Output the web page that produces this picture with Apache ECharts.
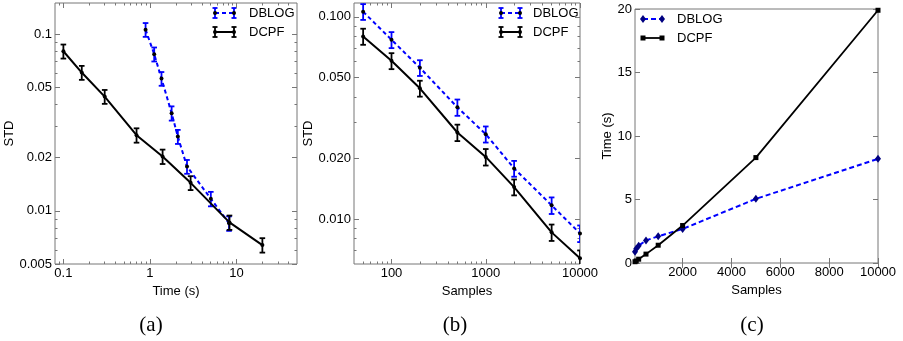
<!DOCTYPE html>
<html><head><meta charset="utf-8">
<script src="https://cdn.jsdelivr.net/npm/echarts@6/dist/echarts.min.js"></script>
<style>html,body{margin:0;padding:0;background:#fff}#c{width:903px;height:341px}</style>
</head><body><div id="c"></div>
<script>
// ---------------- data ----------------
const samples   = [50, 100, 200, 500, 1000, 2000, 5000, 10000];
const dblogStd  = [0.106, 0.077, 0.056, 0.0357, 0.0263, 0.0178, 0.0117, 0.0085];
const dblogErr  = [0.0095, 0.007, 0.005, 0.0033, 0.0024, 0.0016, 0.0011, 0.0008];
const dcpfStd   = [0.080, 0.0606, 0.0443, 0.0268, 0.0203, 0.0144, 0.0086, 0.0064];
const dcpfErr   = [0.0073, 0.0055, 0.004, 0.0025, 0.0019, 0.0013, 0.0008, 0.0006];
const dblogTime = [0.89, 1.12, 1.36, 1.78, 2.1, 2.68, 5.05, 8.2];
const dcpfTime  = [0.1, 0.163, 0.3, 0.70, 1.40, 2.95, 8.3, 19.9];

const aXTicks = [0.1, 1, 10];
const aXLabels = ['0.1', '1', '10'];
const aYTicks = [0.005, 0.01, 0.02, 0.05, 0.1];
const aYLabels = ['0.005', '0.01', '0.02', '0.05', '0.1'];
const bXTicks = [100, 1000, 10000];
const bXLabels = ['100', '1000', '10000'];
const bYTicks = [0.01, 0.02, 0.05, 0.1];
const bYLabels = ['0.010', '0.020', '0.050', '0.100'];
const cXTicks = [2000, 4000, 6000, 8000, 10000];
const cXLabels = ['2000', '4000', '6000', '8000', '10000'];
const cYTicks = [0, 5, 10, 15, 20];
const cYLabels = ['0', '5', '10', '15', '20'];
const seriesNames = ['DBLOG', 'DCPF'];
const captions = ['(a)', '(b)', '(c)'];

// ---------------- helpers ----------------
const FONT = 'Liberation Sans';
const FRAME = '#777';
const BLUE = '#0000ff';

function labelFor(ticks, labels) {
  return function (v) {
    let best = 0, bd = Infinity;
    ticks.forEach((t, i) => { const d = Math.abs(Math.log(Math.abs(t) + 1e-12) - Math.log(Math.abs(v) + 1e-12)); if (d < bd) { bd = d; best = i; } });
    return labels[best];
  };
}
function labelForLin(ticks, labels) {
  return function (v) {
    let best = 0, bd = Infinity;
    ticks.forEach((t, i) => { const d = Math.abs(t - v); if (d < bd) { bd = d; best = i; } });
    return labels[best];
  };
}
function logMinors(min, max, majors) {
  const out = [];
  for (let e = -4; e <= 5; e++) for (let m = 1; m < 10; m++) {
    const v = +(m * Math.pow(10, e)).toPrecision(6);
    if (v > min * 1.0001 && v < max * 0.9999 && !majors.some(t => Math.abs(t - v) / v < 1e-6)) out.push(v);
  }
  return out;
}

const xAxes = [], yAxes = [];
function addAxes(list, dir, grid, type, min, max, majors, fmt, name, nameGap, minors, labelMargin) {
  const pos = dir === 'x' ? ['bottom', 'top'] : ['left', 'right'];
  const base = { type: type, gridIndex: grid, min: min, max: max, splitLine: { show: false }, axisLine: { show: false } };
  if (type === 'log') base.logBase = 10;
  const mainIdx = list.length;
  list.push(Object.assign({}, base, {
    position: pos[0],
    name: name, nameLocation: 'middle', nameGap: nameGap,
    nameTextStyle: { fontFamily: FONT, fontSize: 13, color: '#000' },
    axisTick: { show: true, inside: true, length: 5, customValues: majors, lineStyle: { color: FRAME, width: 1 } },
    axisLabel: { show: true, customValues: majors, formatter: fmt, margin: labelMargin, fontFamily: FONT, fontSize: 13, color: '#000' }
  }));
  list.push(Object.assign({}, base, {
    position: pos[1],
    axisTick: { show: true, inside: true, length: 5, customValues: majors, lineStyle: { color: FRAME, width: 1 } },
    axisLabel: { show: false }
  }));
  if (minors && minors.length) {
    [0, 1].forEach(k => list.push(Object.assign({}, base, {
      position: pos[k],
      axisTick: { show: true, inside: true, length: 2.5, customValues: minors, lineStyle: { color: FRAME, width: 1 } },
      axisLabel: { show: false }
    })));
  }
  return mainIdx;
}

// grids
const grids = [
  { left: 55, right: 606, top: 3, bottom: 77 },
  { left: 354, right: 323, top: 3, bottom: 77 },
  { left: 635, right: 25, top: 9, bottom: 78 }
].map(g => Object.assign(g, { show: true, borderColor: FRAME, borderWidth: 1, backgroundColor: 'transparent', containLabel: false }));

// panel a
const aXmin = 0.08, aXmax = 50, aYmin = 0.005, aYmax = 0.15;
const ax = addAxes(xAxes, 'x', 0, 'log', aXmin, aXmax, aXTicks, labelFor(aXTicks, aXLabels), 'Time (s)', 15, logMinors(aXmin, aXmax, aXTicks), 3);
const ay = addAxes(yAxes, 'y', 0, 'log', aYmin, aYmax, aYTicks, labelFor(aYTicks, aYLabels), 'STD', 35, logMinors(aYmin, aYmax, aYTicks), 3);
// panel b
const bXmin = 40, bXmax = 10000, bYmin = 0.006, bYmax = 0.117;
const bx = addAxes(xAxes, 'x', 1, 'log', bXmin, bXmax, bXTicks, labelFor(bXTicks, bXLabels), 'Samples', 15, logMinors(bXmin, bXmax, bXTicks), 3);
const by = addAxes(yAxes, 'y', 1, 'log', bYmin, bYmax, bYTicks, labelFor(bYTicks, bYLabels), 'STD', 35, logMinors(bYmin, bYmax, bYTicks), 3);
// panel c
const cx = addAxes(xAxes, 'x', 2, 'value', 50, 10000, cXTicks, labelForLin(cXTicks, cXLabels), 'Samples', 16, null, 3);
const cy = addAxes(yAxes, 'y', 2, 'value', 0, 20, cYTicks, labelForLin(cYTicks, cYLabels), 'Time (s)', 12, null, 3);

function errRender(color) {
  return function (params, api) {
    const x = api.value(0), lo = api.value(1), hi = api.value(2);
    const p1 = api.coord([x, hi]), p2 = api.coord([x, lo]);
    const w = 2.8, st = { stroke: color, lineWidth: 1.8 };
    return {
      type: 'group', children: [
        { type: 'line', shape: { x1: p1[0], y1: p1[1], x2: p2[0], y2: p2[1] }, style: st },
        { type: 'line', shape: { x1: p1[0] - w, y1: p1[1], x2: p1[0] + w, y2: p1[1] }, style: st },
        { type: 'line', shape: { x1: p2[0] - w, y1: p2[1], x2: p2[0] + w, y2: p2[1] }, style: st }
      ]
    };
  };
}
function errData(xs, ys, es) { return xs.map((x, i) => [x, ys[i] - es[i], ys[i] + es[i]]); }
function zip(xs, ys) { return xs.map((x, i) => [x, ys[i]]); }

const series = [];
function errPanel(xi, yi, xsD, xsC) {
  series.push({ type: 'custom', name: seriesNames[0], xAxisIndex: xi, yAxisIndex: yi, clip: true, z: 2,
    renderItem: errRender(BLUE), data: errData(xsD, dblogStd, dblogErr) });
  series.push({ type: 'line', name: seriesNames[0], xAxisIndex: xi, yAxisIndex: yi, z: 3,
    data: zip(xsD, dblogStd), symbol: 'circle', symbolSize: 4, showSymbol: true,
    itemStyle: { color: '#000' }, lineStyle: { color: BLUE, width: 2, type: [4, 3] } });
  series.push({ type: 'custom', name: seriesNames[1], xAxisIndex: xi, yAxisIndex: yi, clip: true, z: 2,
    renderItem: errRender('#000'), data: errData(xsC, dcpfStd, dcpfErr) });
  series.push({ type: 'line', name: seriesNames[1], xAxisIndex: xi, yAxisIndex: yi, z: 3,
    data: zip(xsC, dcpfStd), symbol: 'circle', symbolSize: 4, showSymbol: true,
    itemStyle: { color: '#000' }, lineStyle: { color: '#000', width: 2 } });
}
errPanel(ax, ay, dblogTime, dcpfTime);
errPanel(bx, by, samples, samples);
series.push({ type: 'line', name: seriesNames[0], xAxisIndex: cx, yAxisIndex: cy, z: 3,
  data: zip(samples, dblogTime), symbol: 'diamond', symbolSize: [6, 8], showSymbol: true,
  itemStyle: { color: '#000080' }, lineStyle: { color: BLUE, width: 2, type: [5, 3] } });
series.push({ type: 'line', name: seriesNames[1], xAxisIndex: cx, yAxisIndex: cy, z: 3,
  data: zip(samples, dcpfTime), symbol: 'rect', symbolSize: 5, showSymbol: true,
  itemStyle: { color: '#000' }, lineStyle: { color: '#000', width: 1.8 } });

// ---------------- legends & captions (graphic) ----------------
const graphics = [];
function ibar(x, y, color) {
  const st = { stroke: color, lineWidth: 1.8 };
  return [
    { type: 'line', shape: { x1: x, y1: y - 5, x2: x, y2: y + 5 }, style: st },
    { type: 'line', shape: { x1: x - 2.5, y1: y - 5, x2: x + 2.5, y2: y - 5 }, style: st },
    { type: 'line', shape: { x1: x - 2.5, y1: y + 5, x2: x + 2.5, y2: y + 5 }, style: st },
    { type: 'circle', shape: { cx: x, cy: y, r: 2 }, style: { fill: '#000' } }
  ];
}
function legendText(x, y, t) {
  return { type: 'text', x: x, y: y, style: { text: t, fontFamily: FONT, fontSize: 13, fill: '#000', align: 'left', verticalAlign: 'middle' } };
}
function errLegend(x0, x1, tx, y0, y1) {
  graphics.push({ type: 'line', shape: { x1: x0, y1: y0, x2: x1, y2: y0 }, style: { stroke: BLUE, lineWidth: 2, lineDash: [4, 3] } });
  ibar(x0, y0, BLUE).concat(ibar(x1, y0, BLUE)).forEach(g => graphics.push(g));
  graphics.push(legendText(tx, y0, seriesNames[0]));
  graphics.push({ type: 'line', shape: { x1: x0, y1: y1, x2: x1, y2: y1 }, style: { stroke: '#000', lineWidth: 2 } });
  ibar(x0, y1, '#000').concat(ibar(x1, y1, '#000')).forEach(g => graphics.push(g));
  graphics.push(legendText(tx, y1, seriesNames[1]));
}
errLegend(215, 234, 249, 13, 32);
errLegend(501, 520, 533, 13, 32);
// panel c legend
(function () {
  const x0 = 643, x1 = 662, y0 = 19, y1 = 38;
  graphics.push({ type: 'line', shape: { x1: x0, y1: y0, x2: x1, y2: y0 }, style: { stroke: BLUE, lineWidth: 2, lineDash: [5, 3] } });
  [x0, x1].forEach(x => graphics.push({ type: 'polygon', shape: { points: [[x, y0 - 4], [x + 3, y0], [x, y0 + 4], [x - 3, y0]] }, style: { fill: '#000080' } }));
  graphics.push(legendText(677, y0, seriesNames[0]));
  graphics.push({ type: 'line', shape: { x1: x0, y1: y1, x2: x1, y2: y1 }, style: { stroke: '#000', lineWidth: 1.8 } });
  [x0, x1].forEach(x => graphics.push({ type: 'rect', shape: { x: x - 2.5, y: y1 - 2.5, width: 5, height: 5 }, style: { fill: '#000' } }));
  graphics.push(legendText(677, y1, seriesNames[1]));
})();
[[151, captions[0]], [455, captions[1]], [752, captions[2]]].forEach(([x, t]) => graphics.push({
  type: 'text', x: x, y: 325, style: { text: t, fontFamily: 'Liberation Serif', fontSize: 21, fill: '#000', align: 'center', verticalAlign: 'middle' }
}));

const chart = echarts.init(document.getElementById('c'), null, { renderer: 'canvas' });
chart.setOption({
  animation: false,
  backgroundColor: '#fff',
  grid: grids,
  xAxis: xAxes,
  yAxis: yAxes,
  series: series,
  graphic: graphics
});
</script></body></html>
